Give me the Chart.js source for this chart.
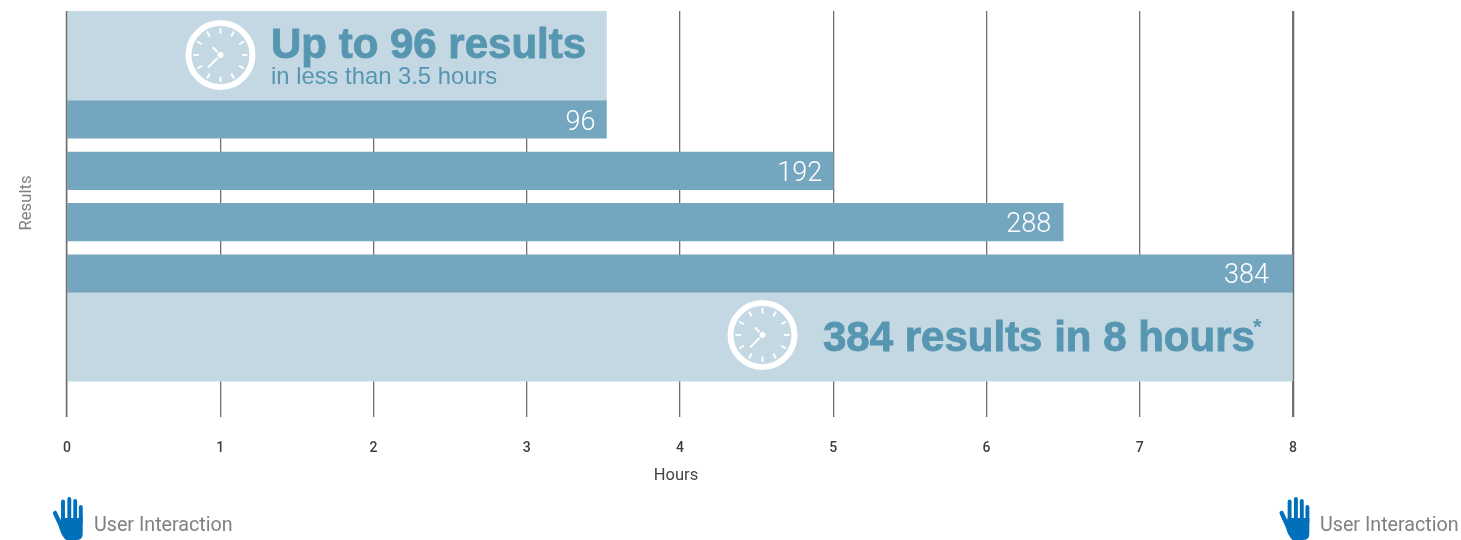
<!DOCTYPE html>
<html lang="en">
<head>
<meta charset="UTF-8">
<title>Results over hours</title>
<script src="https://cdn.jsdelivr.net/npm/chart.js"></script>
<style>
    body { margin: 0; background: #fff; }
    #chart-wrap { width: 1461px; height: 540px; }
</style>
</head>
<body>
<div id="chart-wrap"><canvas id="chart" width="1461" height="540"></canvas></div>
<script>
    const resultLabels = ['96', '192', '288', '384'];
    const hourValues = [3.52, 5, 6.5, 8];
    const rowPositions = [1, 2, 3, 4];
    const panelHours = [3.52, 8];
    const panelRows = [-0.237, 5.227];
    const hourTicks = [0, 1, 2, 3, 4, 5, 6, 7, 8];

    const BAR_COLOR = '#74a6bf';
    const PANEL_COLOR = '#c3d8e3';
    const HEADLINE_COLOR = '#5796b1';
    const HAND_COLOR = '#0070bb';
    const GRID_COLOR = '#707070';

    function drawClock(ctx, cx, cy) {
        ctx.save();
        ctx.translate(cx, cy);
        ctx.strokeStyle = '#fff';
        ctx.fillStyle = '#fff';
        ctx.lineWidth = 6;
        ctx.beginPath();
        ctx.arc(0, 0, 32, 0, Math.PI * 2);
        ctx.stroke();
        ctx.lineWidth = 2;
        for (let i = 0; i < 12; i++) {
            const a = i * Math.PI / 6;
            ctx.beginPath();
            ctx.moveTo(Math.cos(a) * 21.5, Math.sin(a) * 21.5);
            ctx.lineTo(Math.cos(a) * 27, Math.sin(a) * 27);
            ctx.stroke();
        }
        ctx.lineWidth = 2;
        ctx.beginPath();
        ctx.moveTo(-3, -3);
        ctx.lineTo(-7.7, -7.7);
        ctx.moveTo(-3, 3);
        ctx.lineTo(-12.5, 12.5);
        ctx.stroke();
        ctx.beginPath();
        ctx.arc(0, 0, 3, 0, Math.PI * 2);
        ctx.fill();
        ctx.restore();
    }

    function drawHand(ctx, ox) {
        ctx.save();
        ctx.translate(ox, 0);
        ctx.strokeStyle = HAND_COLOR;
        ctx.fillStyle = HAND_COLOR;
        ctx.lineCap = 'round';
        ctx.lineWidth = 3.9;
        [[63, 501.5], [69.3, 499], [75.2, 501], [80.8, 507]].forEach(f => {
            ctx.beginPath();
            ctx.moveTo(f[0], 522);
            ctx.lineTo(f[0], f[1]);
            ctx.stroke();
        });
        ctx.lineWidth = 4.2;
        ctx.beginPath();
        ctx.moveTo(55, 513);
        ctx.lineTo(61, 526);
        ctx.stroke();
        ctx.beginPath();
        ctx.moveTo(61, 518);
        ctx.lineTo(82.7, 518);
        ctx.lineTo(82.7, 534);
        ctx.quadraticCurveTo(82.7, 540, 76, 540);
        ctx.lineTo(66, 540);
        ctx.quadraticCurveTo(62, 537, 59, 527);
        ctx.closePath();
        ctx.fill();
        ctx.restore();
    }

    const annotations = {
        id: 'annotations',
        afterDatasetsDraw(chart) {
            const ctx = chart.ctx;
            const x = chart.scales.x;
            const y = chart.scales.y;
            const area = chart.chartArea;
            ctx.save();
            ctx.textBaseline = 'alphabetic';

            // the two end lines sit just outside the bars, so redraw them on top
            ctx.strokeStyle = GRID_COLOR;
            ctx.lineWidth = 1.5;
            [x.getPixelForValue(0) - 0.5, x.getPixelForValue(8) + 0.5].forEach(px => {
                ctx.beginPath();
                ctx.moveTo(px, area.top);
                ctx.lineTo(px, area.bottom);
                ctx.stroke();
            });

            // value labels inside the bars
            ctx.fillStyle = '#fff';
            ctx.textAlign = 'right';
            ctx.font = '300 27px Roboto';
            const insets = [11, 11, 12, 24];
            resultLabels.forEach((label, i) => {
                ctx.fillText(label, x.getPixelForValue(hourValues[i]) - insets[i], y.getPixelForValue(rowPositions[i]) + 10);
            });

            // panel headlines, stroked a little because the original face is heavier
            ctx.textAlign = 'left';
            ctx.fillStyle = HEADLINE_COLOR;
            ctx.strokeStyle = HEADLINE_COLOR;
            ctx.lineWidth = 0.9;
            ctx.font = 'bold 42px "Liberation Sans"';
            ctx.fillText('Up to 96 results', 271, 58);
            ctx.strokeText('Up to 96 results', 271, 58);
            ctx.fillText('384 results in 8 hours', 823, 351);
            ctx.strokeText('384 results in 8 hours', 823, 351);
            ctx.font = 'bold 22px "Liberation Sans"';
            ctx.fillText('*', 1253, 334);
            ctx.font = '23.8px "Liberation Sans"';
            ctx.fillText('in less than 3.5 hours', 271, 84);

            drawClock(ctx, 220.5, 55);
            drawClock(ctx, 762.5, 335);

            // axis titles
            ctx.textAlign = 'center';
            ctx.fillStyle = '#444';
            ctx.font = '400 16.5px Roboto';
            ctx.fillText('Hours', 676, 480);
            ctx.save();
            ctx.translate(31, 203);
            ctx.rotate(-Math.PI / 2);
            ctx.fillStyle = '#808080';
            ctx.font = '16.7px Roboto';
            ctx.fillText('Results', 0, 0);
            ctx.restore();

            // user interaction markers
            drawHand(ctx, 0);
            drawHand(ctx, 1226.6);
            ctx.textAlign = 'left';
            ctx.fillStyle = '#808080';
            ctx.font = '19.7px Roboto';
            ctx.fillText('User Interaction', 94, 531);
            ctx.fillText('User Interaction', 1320, 531);
            ctx.restore();
        }
    };

    new Chart(document.getElementById('chart'), {
        type: 'bar',
        data: {
            datasets: [
                {
                    data: hourValues.map((h, i) => ({ x: h, y: rowPositions[i] })),
                    backgroundColor: BAR_COLOR,
                    barThickness: 37.5,
                    grouped: false
                },
                {
                    data: panelHours.map((h, i) => ({ x: [0, h], y: panelRows[i] })),
                    backgroundColor: PANEL_COLOR,
                    barThickness: 89.5,
                    grouped: false
                }
            ]
        },
        plugins: [annotations],
        options: {
            indexAxis: 'y',
            responsive: false,
            animation: false,
            layout: { padding: { left: 67, right: 168, top: 11 } },
            plugins: { legend: { display: false }, tooltip: { enabled: false } },
            scales: {
                x: {
                    type: 'linear',
                    min: 0,
                    max: 8,
                    afterFit: s => { s.height = 123; },
                    afterBuildTicks: s => { s.ticks = hourTicks.map(v => ({ value: v })); },
                    grid: { color: GRID_COLOR, lineWidth: 1.3, drawTicks: false },
                    border: { display: false },
                    ticks: {
                        padding: 23,
                        color: '#3f3f3f',
                        maxRotation: 0,
                        autoSkip: false,
                        font: { family: 'Roboto', size: 14, weight: '500' }
                    }
                },
                y: {
                    type: 'linear',
                    reverse: true,
                    offset: false,
                    min: -1.114,
                    max: 6.796,
                    display: false
                }
            }
        }
    });
</script>
</body>
</html>
